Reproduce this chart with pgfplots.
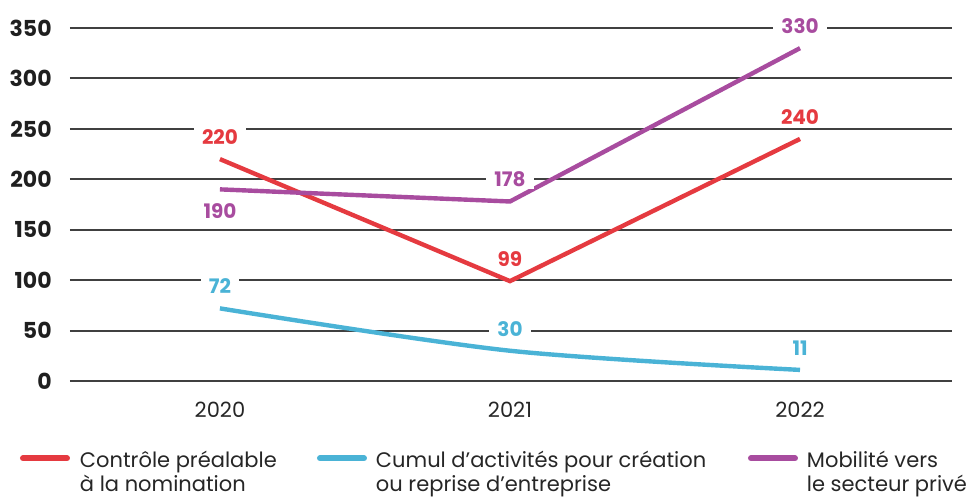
\documentclass[border=0pt]{standalone}
\usepackage{fontspec}
\setmainfont{Poppins}
\usepackage{pgfplots}
\usepackage{pgfplotstable}
\pgfplotsset{compat=1.18}

\definecolor{cred}{HTML}{E53A40}
\definecolor{ccyan}{HTML}{4AB3D6}
\definecolor{cpurple}{HTML}{A84C9F}

% x: 0=2020, 1=2021, 2=2022 ; dy = label offset (pt)
\pgfplotstableread{
x y dy
0 220 11
1 99 11
2 240 11
}\controle
\pgfplotstableread{
x y dy
0 72 11
1 30 11
2 11 11
}\cumul
\pgfplotstableread{
x y dy
0 190 -11
1 178 11
2 330 11
}\mobilite

\begin{document}
\begin{tikzpicture}
\begin{axis}[
    name=ax,
    scale only axis,
    width=441pt, height=176.5pt,
    xmin=-0.517, xmax=2.524,
    ymin=0, ymax=350,
    ytick={0,50,...,350},
    xtick={0,1,2},
    xticklabels={2020,2021,2022},
    axis line style={draw=none},
    major tick length=0pt,
    ymajorgrids,
    grid style={line width=1pt, color=black!75},
    clip=false,
    /pgf/number format/assume math mode=true,
    yticklabel style={font=\fontsize{11}{13}\selectfont\bfseries, text=black!88,
        anchor=east, inner sep=0pt, xshift=-9pt},
    xticklabel style={font=\fontsize{10.5}{12}\selectfont, text=black!85,
        anchor=base, inner sep=0pt, yshift=-18.5pt},
    nodes near coords,
    visualization depends on={\thisrow{dy} \as \dy},
    every node near coord/.append style={font=\fontsize{10}{12}\selectfont\bfseries,
        fill=white, inner xsep=4pt, inner ysep=1pt, anchor=center, yshift=\dy},
    legend columns=3,
    legend style={at={(0,0)}, anchor=north west, xshift=-25pt, yshift=-35pt,
        draw=none, fill=none, inner sep=0pt, outer sep=0pt,
        font=\fontsize{10.5}{12}\selectfont, text=black!85,
        cells={anchor=base west}, nodes={inner sep=0pt}, column sep=0pt},
    legend image code/.code={\draw[line width=3pt, line cap=round] (1.5pt,4.5pt) -- (23.5pt,4.5pt);},
]
\addplot[cred, line width=2.2pt, every node near coord/.append style={text=cred}]
    table[x=x, y=y] {\controle};
\addlegendentry{\hspace{5pt}\parbox[t]{118.5pt}{Contrôle préalable\\à la nomination}}
\addplot[ccyan, line width=2.2pt, smooth, tension=0.5, every node near coord/.append style={text=ccyan}]
    table[x=x, y=y] {\cumul};
\addlegendentry{\hspace{4.5pt}\parbox[t]{186pt}{Cumul d’activités pour création\\ou reprise d’entreprise}}
\addplot[cpurple, line width=2.2pt, every node near coord/.append style={text=cpurple}]
    table[x=x, y=y] {\mobilite};
\addlegendentry{\hspace{4.5pt}\parbox[t]{80pt}{Mobilité vers\\le secteur privé}}
\end{axis}
\pgfresetboundingbox
\path ([shift={(-35pt,-58.5pt)}]ax.south west) rectangle ([shift={(9.5pt,14pt)}]ax.north east);
\end{tikzpicture}
\end{document}
